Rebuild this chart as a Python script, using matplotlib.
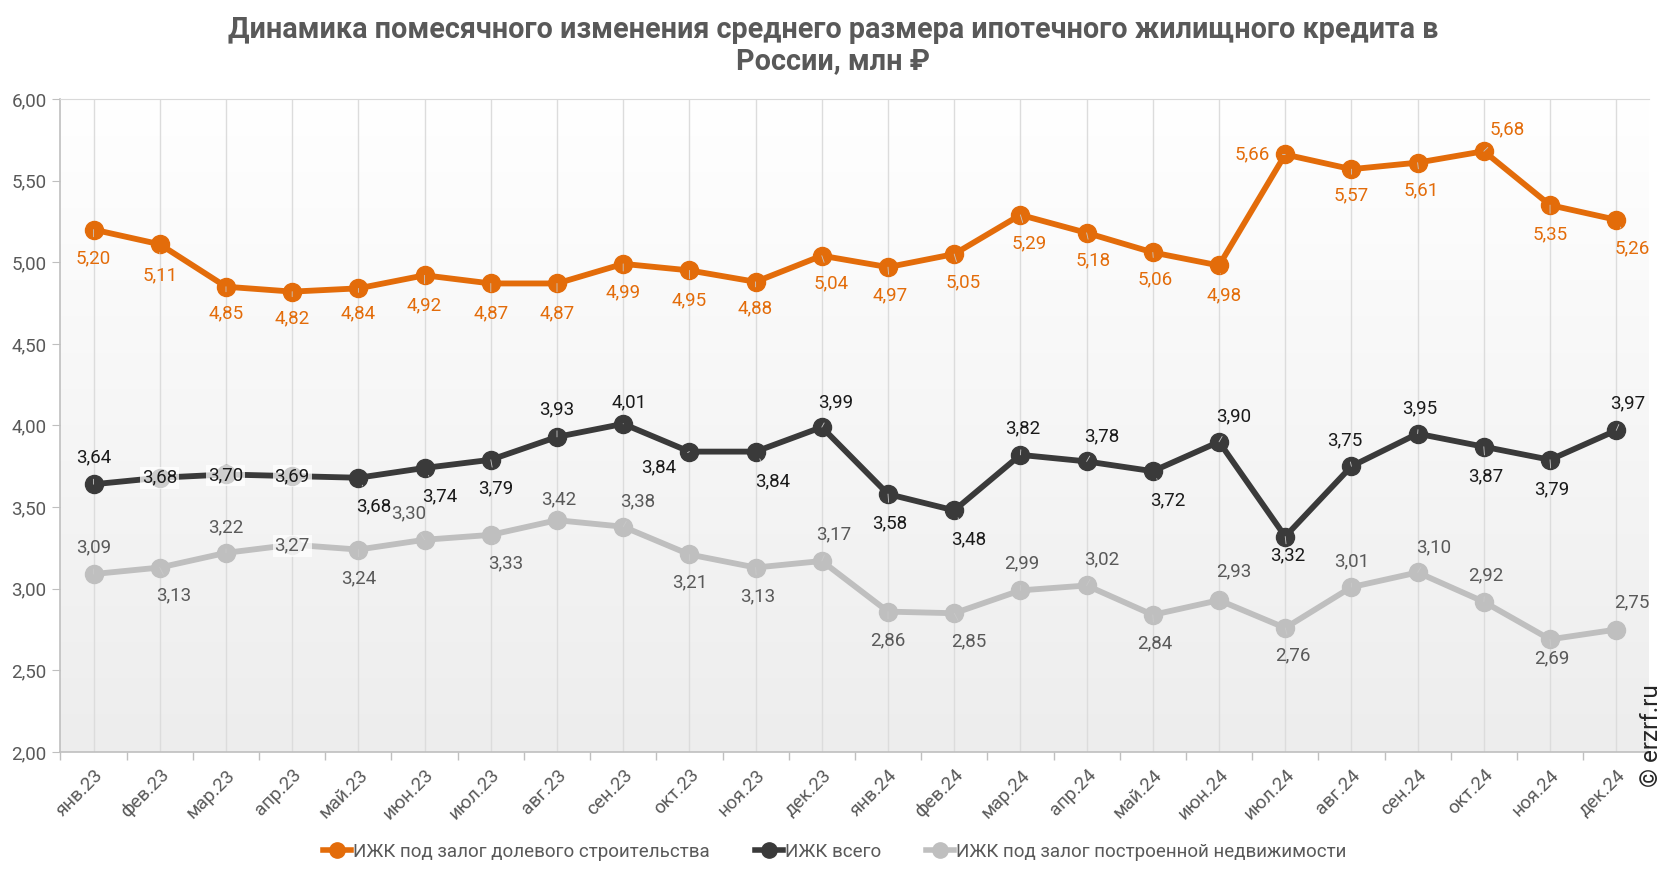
import numpy as np
import matplotlib
matplotlib.use("Agg")
import matplotlib.pyplot as plt
from matplotlib.colors import LinearSegmentedColormap
from matplotlib.lines import Line2D

plt.rcParams['font.family'] = ['Roboto', 'DejaVu Sans']

# ---------------- data ----------------
months = ["янв.23", "фев.23", "мар.23", "апр.23", "май.23", "июн.23", "июл.23", "авг.23",
          "сен.23", "окт.23", "ноя.23", "дек.23", "янв.24", "фев.24", "мар.24", "апр.24",
          "май.24", "июн.24", "июл.24", "авг.24", "сен.24", "окт.24", "ноя.24", "дек.24"]
shared = [5.20, 5.11, 4.85, 4.82, 4.84, 4.92, 4.87, 4.87, 4.99, 4.95, 4.88, 5.04,
          4.97, 5.05, 5.29, 5.18, 5.06, 4.98, 5.66, 5.57, 5.61, 5.68, 5.35, 5.26]
total = [3.64, 3.68, 3.70, 3.69, 3.68, 3.74, 3.79, 3.93, 4.01, 3.84, 3.84, 3.99,
         3.58, 3.48, 3.82, 3.78, 3.72, 3.90, 3.32, 3.75, 3.95, 3.87, 3.79, 3.97]
built = [3.09, 3.13, 3.22, 3.27, 3.24, 3.30, 3.33, 3.42, 3.38, 3.21, 3.13, 3.17,
         2.86, 2.85, 2.99, 3.02, 2.84, 2.93, 2.76, 3.01, 3.10, 2.92, 2.69, 2.75]
series_names = ["ИЖК под залог долевого строительства", "ИЖК всего",
                "ИЖК под залог построенной недвижимости"]
title = "Динамика помесячного изменения среднего размера ипотечного жилищного кредита в\nРоссии, млн ₽"

# ---------------- label layout (screen px offsets: dx right, dy down) ----------------
off_shared = [(0, 27), (0, 29), (0, 25), (0, 25), (0, 24), (0, 28), (0, 28), (0, 28),
              (0, 27), (0, 28), (0, 25), (9, 26), (2, 27), (8, 27), (8, 27), (6, 26),
              (2, 25), (5, 28), (-31, 0), (0, 25), (3, 26), (22, -21), (0, 28), (15, 27)]
off_total = [(0, -25), (0, 0), (0, 1), (0, 0), (14, 27), (14, 27), (5, 27), (0, -26),
             (6, -20), (-29, 15), (16, 28), (13, -23), (2, 28), (14, 27), (2, -25), (14, -24),
             (14, 27), (14, -24), (2, 18), (-6, -24), (2, -24), (2, 28), (2, 28), (11, -25)]
off_built = [(0, -25), (13, 26), (0, -24), (0, 1), (0, 27), (-15, -25), (14, 27), (2, -20),
             (14, -24), (0, 26), (2, 27), (11, -25), (0, 27), (14, 26), (1, -25), (14, -25),
             (2, 27), (14, -27), (7, 26), (0, -24), (15, -24), (2, -25), (2, 18), (15, -26)]

C_OR = '#E36C0A'
C_DK = '#3A3A3A'
C_GR = '#BFBFBF'
TXT = '#595959'
PX = 1.0625

fig = plt.figure(figsize=(16.66, 8.72), dpi=100)
ax = fig.add_axes([0.0363, 0.1376, 0.9537, 0.7489])

# gradient background
cmap = LinearSegmentedColormap.from_list('bg', ['#FFFFFF', '#EDEDED'])
ax.imshow(np.linspace(0, 1, 256)[:, None], extent=(0, 1, 0, 1), transform=ax.transAxes,
          aspect='auto', cmap=cmap, zorder=0)

x = np.arange(len(months))
for vals, col in [(built, C_GR), (total, C_DK), (shared, C_OR)]:
    ax.plot(x, vals, color=col, lw=4.2, marker='o', ms=13, zorder=3,
            solid_capstyle='round')

def put_labels(vals, offs, color):
    for i, (v, (dx, dy)) in enumerate(zip(vals, offs)):
        txt = f"{v:.2f}".replace('.', ',')
        kw = {}
        if dx == 0 and abs(dy) <= 1:
            kw['bbox'] = dict(boxstyle='square,pad=0.1', fc='white', ec='none', alpha=0.75)
        else:
            kw['arrowprops'] = dict(arrowstyle='-', color='#C8C8C8', lw=0.6,
                                    shrinkA=7, shrinkB=6)
        ax.annotate(txt, (i, v), xytext=(dx * PX, -dy * PX), textcoords='offset pixels',
                    ha='center', va='center', fontsize=13.5, color=color, zorder=5, **kw)

put_labels(shared, off_shared, C_OR)
put_labels(total, off_total, '#1A1A1A')
put_labels(built, off_built, TXT)

ax.set_xlim(-0.5, len(months) - 0.5)
ax.set_ylim(2, 6)
ax.set_yticks(np.arange(2, 6.01, 0.5))
ax.set_yticklabels([f"{t:.2f}".replace('.', ',') for t in np.arange(2, 6.01, 0.5)])
ax.set_xticks(np.arange(-0.5, len(months), 1.0))
ax.set_xticklabels([])
ax.set_xticks(x, minor=True)
ax.set_xticklabels(months, minor=True, rotation=45, ha='right', rotation_mode='anchor')
ax.tick_params(axis='x', which='minor', length=0, pad=10, labelsize=13.5, labelcolor=TXT)
ax.tick_params(axis='x', which='major', length=6, color='#BFBFBF', width=1)
ax.tick_params(axis='y', length=6, color='#BFBFBF', labelsize=13.5, labelcolor=TXT, pad=4)
ax.grid(axis='x', which='minor', color='#DCDCDC', lw=1, zorder=1)
ax.set_axisbelow(True)
for s in ['left', 'bottom']:
    ax.spines[s].set_color('#BFBFBF')
    ax.spines[s].set_linewidth(1.2)
ax.spines['top'].set_color('#D9D9D9')
ax.spines['right'].set_visible(False)

fig.text(0.5, 0.948, title, ha='center', va='center', fontsize=20.7, fontweight='bold',
         color=TXT, linespacing=1.12)

fig.text(0.9915, 0.0975, "© erzrf.ru", rotation=90, ha='center', va='bottom',
         fontsize=17.5, color='#262626')

handles = [Line2D([], [], color=c, lw=4, marker='o', ms=11)
           for c in (C_OR, C_DK, C_GR)]
fig.legend(handles, series_names, loc='center', bbox_to_anchor=(0.501, 0.023), ncol=3,
           frameon=False, fontsize=13.5, labelcolor=TXT, handlelength=1.5,
           handletextpad=0.1, columnspacing=2.4)

fig.savefig('out.png', dpi=100)
